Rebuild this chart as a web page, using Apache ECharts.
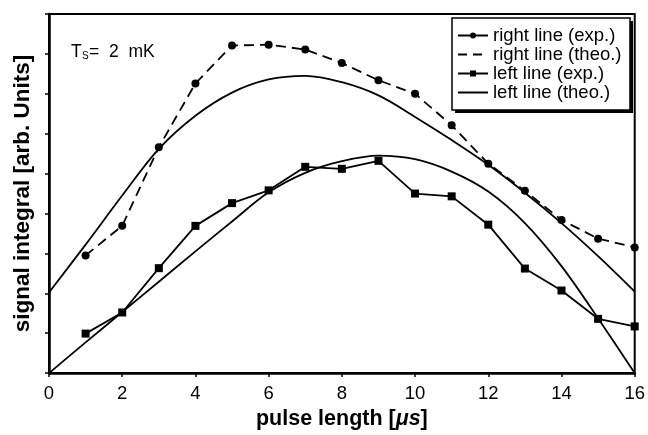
<!DOCTYPE html>
<html>
<head>
<meta charset="utf-8">
<script src="https://cdn.jsdelivr.net/npm/echarts@6/dist/echarts.min.js"></script>
<style>html,body{margin:0;padding:0;background:#fff;}#c{width:648px;height:435px;}</style>
</head>
<body>
<div id="c"></div>
<script>
// x positions (pulse length, µs)
var xExp = [1,2,3,4,5,6,7,8,9,10,11,12,13,14,15,16];
var xTheo = [0,1,2,3,4,5,6,7,8,9,10,11,12,13,14,15,16];
// measured values
var rightExp = [2.95,3.69,5.66,7.26,8.21,8.23,8.11,7.77,7.34,7.00,6.21,5.25,4.57,3.84,3.37,3.15];
var leftExp  = [0.99,1.52,2.63,3.69,4.26,4.58,5.17,5.12,5.32,4.50,4.43,3.72,2.62,2.07,1.36,1.17];
// theoretical curves
var rightTheo = [2.02,3.22,4.45,5.62,6.45,7.03,7.36,7.45,7.29,6.96,6.42,5.84,5.22,4.52,3.76,2.93,2.04];
var leftTheo  = [0.00,0.77,1.53,2.29,3.05,3.80,4.53,5.02,5.31,5.45,5.36,5.05,4.55,3.76,2.68,1.37,0.00];
var xTicks = [0,2,4,6,8,10,12,14,16];
var names = ['right line (exp.)','right line (theo.)','left line (exp.)','left line (theo.)'];

function pairs(xs, ys){ return xs.map(function(x,i){ return [x, ys[i]]; }); }

var chart = echarts.init(document.getElementById('c'), null, {renderer:'canvas'});
var FONT = 'Liberation Sans';
chart.setOption({
  animation: false,
  backgroundColor: '#fff',
  textStyle: {fontFamily: FONT, color: '#000'},
  grid: {left: 49, right: 11, top: 14, bottom: 57, show: true, borderColor: '#000', borderWidth: 2, backgroundColor: 'transparent'},
  xAxis: {
    type: 'value', min: xTicks[0], max: xTicks[xTicks.length-1], interval: 2,
    axisLine: {show: true, lineStyle: {color: '#000', width: 2.5}},
    axisTick: {show: true, inside: false, length: 4, lineStyle: {color: '#000', width: 1.5}},
    axisLabel: {show: true, margin: 11, fontSize: 18.5, fontFamily: FONT, color: '#000'},
    splitLine: {show: false},
    name: 'pulse length [{i|μs}]', nameLocation: 'middle', nameGap: 31,
    nameTextStyle: {fontSize: 21.5, fontWeight: 'bold', fontFamily: FONT, color: '#000',
      rich: {i: {fontSize: 21.5, fontWeight: 'bold', fontStyle: 'italic', fontFamily: FONT, color: '#000'}}}
  },
  yAxis: {
    type: 'value', min: 0, max: 9, interval: 1,
    axisLine: {show: true, lineStyle: {color: '#000', width: 2.5}},
    axisTick: {show: true, inside: false, length: 4, lineStyle: {color: '#000', width: 1.5}},
    axisLabel: {show: false},
    splitLine: {show: false},
    name: 'signal integral [arb. Units]', nameLocation: 'middle', nameGap: 15, nameRotate: 90,
    nameTextStyle: {fontSize: 22.5, fontWeight: 'bold', fontFamily: FONT, color: '#000'}
  },
  legend: {
    show: true, orient: 'vertical', left: 452, top: 18, z: 10,
    padding: [8, 9, 9, 5],
    itemWidth: 30, itemHeight: 7.5, itemGap: 0, itemTextGap: 5,
    backgroundColor: 'transparent', borderWidth: 0,
    textStyle: {fontSize: 18.5, lineHeight: 18.8, fontFamily: FONT, color: '#000'},
    data: [
      {name: names[0], lineStyle: {type: 'solid'}},
      {name: names[1], lineStyle: {type: [9, 6]}, itemStyle: {opacity: 0}},
      {name: names[2], lineStyle: {type: 'solid'}},
      {name: names[3], lineStyle: {type: 'solid'}, itemStyle: {opacity: 0}}
    ]
  },
  series: [
    {name: names[0], type: 'line', data: pairs(xExp, rightExp), symbol: 'circle', symbolSize: 8,
      itemStyle: {color: '#000'}, lineStyle: {color: '#000', width: 1.8, type: [10, 6]}},
    {name: names[1], type: 'line', data: pairs(xTheo, rightTheo), symbol: 'none', smooth: 0.35,
      itemStyle: {color: '#000'}, lineStyle: {color: '#000', width: 1.8}},
    {name: names[2], type: 'line', data: pairs(xExp, leftExp), symbol: 'rect', symbolSize: 8,
      itemStyle: {color: '#000'}, lineStyle: {color: '#000', width: 1.8}},
    {name: names[3], type: 'line', data: pairs(xTheo, leftTheo), symbol: 'none', smooth: 0.35,
      itemStyle: {color: '#000'}, lineStyle: {color: '#000', width: 1.8}}
  ],
  graphic: [
    {type: 'rect', z: 8, shape: {x: 455, y: 21, width: 178, height: 92}, style: {fill: '#000'}},
    {type: 'rect', z: 9, shape: {x: 452, y: 18, width: 178, height: 92}, style: {fill: '#fff', stroke: '#000', lineWidth: 1.5}},
    {type: 'text', left: 71, top: 43, style: {text: 'T', fontSize: 17.5, fontFamily: FONT, fill: '#000'}},
    {type: 'text', left: 82, top: 51, style: {text: 'S', fontSize: 10, fontFamily: FONT, fill: '#000'}},
    {type: 'text', left: 89, top: 43, style: {text: '=  2  mK', fontSize: 17.5, fontFamily: FONT, fill: '#000'}}
  ]
});
</script>
</body>
</html>
